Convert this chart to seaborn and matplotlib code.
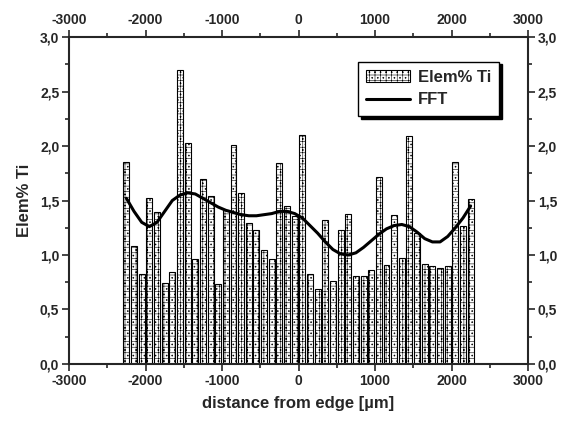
import matplotlib
matplotlib.use("Agg")
import matplotlib.pyplot as plt
import matplotlib.ticker as mticker
import seaborn as sns

# bar positions (µm) and measured Ti content
positions = list(range(-2250, 2251, 100))
elem_ti = [1.85, 1.08, 0.83, 1.52, 1.39, 0.74, 0.84, 2.70, 2.03, 0.96,
           1.70, 1.54, 0.73, 1.41, 2.01, 1.57, 1.29, 1.23, 1.05, 0.96,
           1.84, 1.45, 1.36, 2.10, 0.83, 0.69, 1.32, 0.76, 1.23, 1.38,
           0.81, 0.81, 0.86, 1.72, 0.91, 1.37, 0.97, 2.09, 1.20, 0.92,
           0.90, 0.88, 0.90, 1.85, 1.27, 1.51]

# FFT smoothing curve
fft_x = list(range(-2250, 2251, 100))
fft_y = [1.52, 1.40, 1.30, 1.26, 1.30, 1.40, 1.50, 1.55, 1.57, 1.56,
         1.52, 1.48, 1.44, 1.41, 1.39, 1.37, 1.36, 1.36, 1.37, 1.38,
         1.40, 1.40, 1.38, 1.34, 1.27, 1.20, 1.12, 1.05, 1.01, 1.00,
         1.02, 1.07, 1.13, 1.19, 1.24, 1.27, 1.28, 1.26, 1.21, 1.15,
         1.12, 1.12, 1.17, 1.25, 1.34, 1.45]

sns.set_style("ticks")
plt.rcParams['font.family'] = ['Liberation Sans', 'DejaVu Sans']
plt.rcParams['axes.unicode_minus'] = False
plt.rcParams['hatch.linewidth'] = 0.4

fig = plt.figure(figsize=(5.69, 4.23), dpi=100)
ax = fig.add_axes([0.1213, 0.1395, 0.8067, 0.773])

sns.barplot(x=positions, y=elem_ti, native_scale=True, width=0.78,
            color='white', edgecolor='black', linewidth=0.8, hatch='+++...',
            label='Elem% Ti', ax=ax, errorbar=None)
sns.lineplot(x=fft_x, y=fft_y, color='black', linewidth=2.2, label='FFT', ax=ax)

ax.set_xlim(-3000, 3000)
ax.set_ylim(0, 3.0)
ax.xaxis.set_major_locator(mticker.MultipleLocator(1000))
ax.xaxis.set_minor_locator(mticker.MultipleLocator(500))
ax.yaxis.set_major_locator(mticker.MultipleLocator(0.5))
ax.yaxis.set_minor_locator(mticker.MultipleLocator(0.25))
ax.xaxis.set_major_formatter(mticker.FuncFormatter(lambda v, p: f"{v:.0f}"))
ax.yaxis.set_major_formatter(mticker.FuncFormatter(lambda v, p: f"{v:.1f}".replace('.', ',')))

ax.tick_params(which='both', direction='out', top=True, right=True,
               labeltop=True, labelright=True, width=1.2)
ax.tick_params(which='major', length=5, labelsize=10, pad=2)
ax.tick_params(which='minor', length=3)
for lbl in ax.get_xticklabels() + ax.get_yticklabels():
    lbl.set_fontweight('bold')
for sp in ax.spines.values():
    sp.set_visible(True)
    sp.set_linewidth(1.5)

ax.set_xlabel('distance from edge [µm]', fontsize=12, fontweight='bold', labelpad=6)
ax.set_ylabel('Elem% Ti', fontsize=12, fontweight='bold', labelpad=6)

handles, labels = ax.get_legend_handles_labels()
order = [labels.index('Elem% Ti'), labels.index('FFT')]
leg = ax.legend([handles[i] for i in order], [labels[i] for i in order],
                loc='upper right', bbox_to_anchor=(0.945, 0.935), fancybox=False,
                shadow={'color': 'black', 'alpha': 1}, edgecolor='black',
                framealpha=1, prop={'size': 12, 'weight': 'bold'},
                handlelength=2.6, borderpad=0.5, labelspacing=0.45, handletextpad=0.5,
                borderaxespad=0.2)
leg.get_frame().set_linewidth(1.0)

fig.savefig('out.png', dpi=100)
